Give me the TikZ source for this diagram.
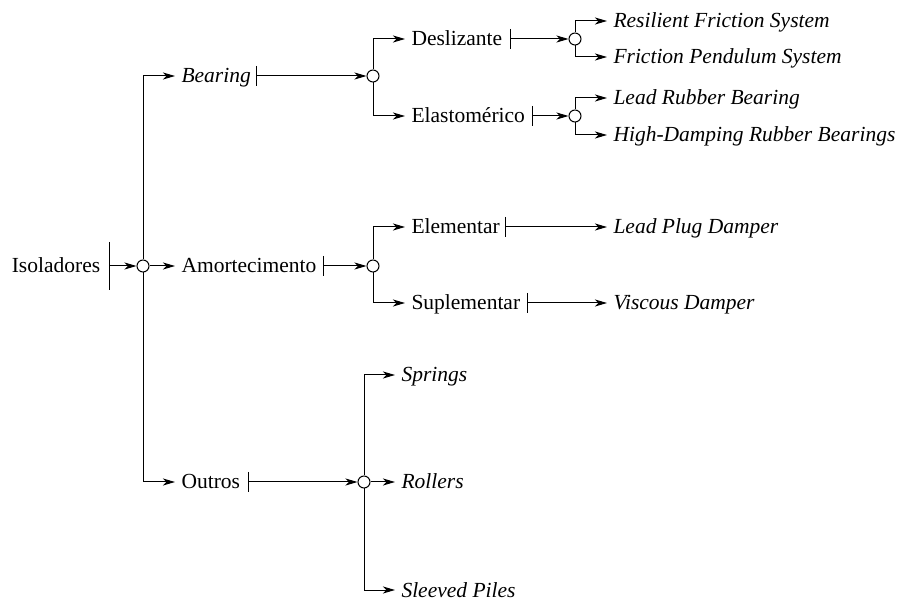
\documentclass[tikz,border=0pt]{standalone}
\usepackage{fontspec}
\setmainfont{Liberation Serif}
\usetikzlibrary{arrows.meta, positioning}

\tikzset{
  lbl/.style={anchor=west, inner xsep=6pt, inner ysep=0pt, text height=15pt, text depth=1pt},
  junc/.style={circle, draw, fill=white, minimum size=12pt, inner sep=0pt},
  conn/.style={-{Stealth[length=12pt, width=7pt, inset=3.5pt]}},
}

\begin{document}
\begin{tikzpicture}[x=1pt, y=-1pt, line width=1pt, font=\fontsize{21.5}{25}\selectfont]
	\useasboundingbox (0,0) rectangle (903,601);

	% Root
	\node[lbl, anchor=center] (iso) at (56,266) {Isoladores};
	\coordinate (isoBar) at (109,266);
	\node[junc] (cIso) at (143,266) {};

	% First level
	\node[lbl] (bear) at (175,76) {\itshape Bearing};
	\coordinate (bearBar) at (256,76);
	\node[lbl] (amort) at (175,266) {Amortecimento};
	\coordinate (amortBar) at (323,266);
	\node[lbl] (outr) at (175,482) {Outros};
	\coordinate (outrBar) at (248,482);

	% Second level
	\node[junc] (cBear) at (373,76) {};
	\node[lbl] (desl) at (405,39) {Deslizante};
	\coordinate (deslBar) at (510,39);
	\node[lbl] (elas) at (405,116) {Elastomérico};
	\coordinate (elasBar) at (532,116);

	\node[junc] (cAmort) at (373,266) {};
	\node[lbl] (elem) at (405,227) {Elementar};
	\coordinate (elemBar) at (505,227);
	\node[lbl] (supl) at (405,303) {Suplementar};
	\coordinate (suplBar) at (527,303);

	\node[junc] (cOutr) at (364,482) {};
	\node[lbl] (spr) at (395,375) {\itshape Springs};
	\node[lbl] (roll) at (395,482) {\itshape Rollers};
	\node[lbl] (slv) at (395,590) {\itshape Sleeved Piles};

	% Third level
	\node[junc] (cDesl) at (575,39) {};
	\node[lbl] (rfs) at (607,21) {\itshape Resilient Friction System};
	\node[lbl] (fps) at (607,57) {\itshape Friction Pendulum System};
	\node[junc] (cElas) at (575,116) {};
	\node[lbl] (lrb) at (607,98) {\itshape Lead Rubber Bearing};
	\node[lbl] (hdrb) at (607,135) {\itshape High-Damping Rubber Bearings};
	\node[lbl] (lpd) at (607,227) {\itshape Lead Plug Damper};
	\node[lbl] (vd) at (607,303) {\itshape Viscous Damper};

	% Bars
	\draw ([yshift=24pt]isoBar) -- ([yshift=-24pt]isoBar);
	\foreach \b in {bearBar, amortBar, outrBar, deslBar, elasBar, elemBar, suplBar}
		\draw ([yshift=10pt]\b) -- ([yshift=-10pt]\b);

	% Connectors
	\draw[conn] (isoBar) -- (cIso);
	\draw[conn] (cIso) |- (bear.west);
	\draw[conn] (cIso) -- (amort.west);
	\draw[conn] (cIso) |- (outr.west);

	\draw[conn] (bearBar) -- (cBear);
	\draw[conn] (cBear) |- (desl.west);
	\draw[conn] (cBear) |- (elas.west);
	\draw[conn] (deslBar) -- (cDesl);
	\draw[conn] (cDesl) |- (rfs.west);
	\draw[conn] (cDesl) |- (fps.west);
	\draw[conn] (elasBar) -- (cElas);
	\draw[conn] (cElas) |- (lrb.west);
	\draw[conn] (cElas) |- (hdrb.west);

	\draw[conn] (amortBar) -- (cAmort);
	\draw[conn] (cAmort) |- (elem.west);
	\draw[conn] (cAmort) |- (supl.west);
	\draw[conn] (elemBar) -- (lpd.west);
	\draw[conn] (suplBar) -- (vd.west);

	\draw[conn] (outrBar) -- (cOutr);
	\draw[conn] (cOutr) |- (spr.west);
	\draw[conn] (cOutr) -- (roll.west);
	\draw[conn] (cOutr) |- (slv.west);
\end{tikzpicture}
\end{document}
